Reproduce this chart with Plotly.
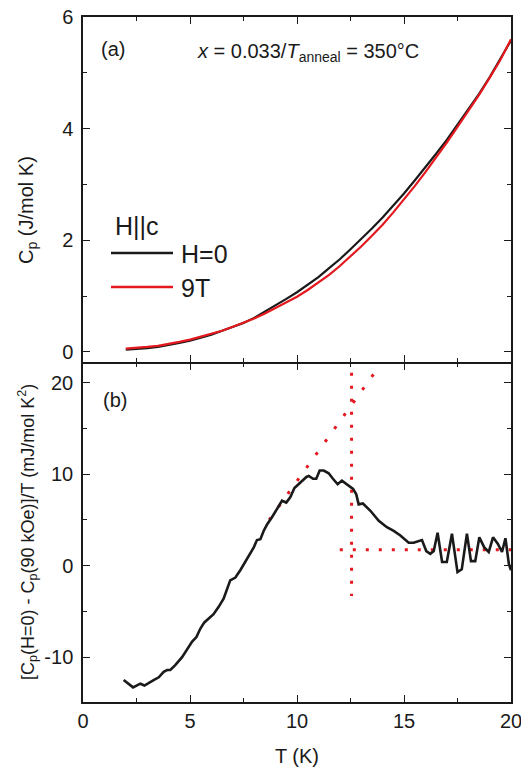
import plotly.graph_objects as go

# ---------------- data ----------------
T_cp = [2.0, 2.5, 3.0, 3.5, 4.0, 4.5, 5.0, 5.5, 6.0, 6.5, 7.0, 7.5, 8.0, 8.5, 9.0, 9.5,
        10.0, 10.5, 11.0, 11.5, 12.0, 12.5, 13.0, 13.5, 14.0, 14.5, 15.0, 15.5, 16.0,
        16.5, 17.0, 17.5, 18.0, 18.5, 19.0, 19.5, 20.0]
cp_H0 = [0.04, 0.05, 0.07, 0.09, 0.12, 0.16, 0.20, 0.25, 0.31, 0.38, 0.45, 0.52, 0.61,
         0.72, 0.83, 0.95, 1.07, 1.20, 1.34, 1.50, 1.66, 1.84, 2.02, 2.21, 2.41, 2.62,
         2.84, 3.07, 3.30, 3.55, 3.80, 4.07, 4.34, 4.62, 4.92, 5.24, 5.58]
cp_9T = [0.06, 0.07, 0.09, 0.11, 0.14, 0.18, 0.22, 0.27, 0.32, 0.38, 0.45, 0.52, 0.60,
         0.69, 0.79, 0.89, 0.99, 1.11, 1.24, 1.38, 1.54, 1.71, 1.89, 2.08, 2.28, 2.50,
         2.73, 2.97, 3.22, 3.48, 3.75, 4.03, 4.31, 4.60, 4.91, 5.23, 5.60]

T_diff = [1.9, 2.34, 2.68, 2.87, 3.3, 3.54, 3.77, 3.93, 4.08, 4.3, 4.63, 4.94, 5.1, 5.3,
          5.48, 5.67, 5.87, 6.1, 6.34, 6.57, 6.88, 7.12, 7.35, 7.66, 7.98, 8.13, 8.29,
          8.44, 8.6, 8.83, 9.07, 9.3, 9.5, 9.69, 9.88, 10.08, 10.23, 10.44, 10.55, 10.75,
          10.9, 11.06, 11.25, 11.48, 11.68, 11.9, 12.1, 12.34, 12.62, 12.77, 12.88, 13.08,
          13.43, 13.82, 14.2, 14.52, 14.83, 15.22, 15.45, 15.84, 16.04, 16.23, 16.39,
          16.57, 16.78, 17.0, 17.24, 17.5, 17.7, 17.94, 18.13, 18.33, 18.52, 18.75,
          18.96, 19.16, 19.38, 19.58, 19.74, 19.9, 20.0]
dcp = [-12.5, -13.3, -12.9, -13.1, -12.5, -12.2, -11.6, -11.4, -11.4, -10.9, -10.0, -8.9,
       -8.3, -7.8, -6.9, -6.2, -5.8, -5.3, -4.5, -3.6, -1.6, -1.3, -0.5, 0.7, 2.0, 2.8,
       2.9, 3.8, 4.5, 5.3, 6.2, 7.1, 6.9, 7.5, 8.5, 8.9, 9.3, 9.7, 9.8, 9.5, 9.5, 10.4,
       10.4, 10.1, 9.5, 8.9, 9.3, 8.9, 8.4, 7.8, 6.7, 6.8, 6.0, 4.9, 4.2, 3.8, 3.3, 2.5,
       2.5, 2.8, 1.6, 1.3, 1.6, 3.6, 0.4, 0.4, 3.5, -0.7, -0.4, 3.5, 0.5, 0.5, 3.1, 2.0,
       1.5, 3.1, 2.4, 1.5, 3.0, 0.2, -0.5]

guide_vert_T = [12.55, 12.55]
guide_vert_y = [22.5, -3.3]
guide_horz_T = [12.0, 20.0]
guide_horz_y = [1.75, 1.75]
guide_diag_T = [8.7, 13.6]
guide_diag_y = [5.0, 21.0]

x_ticks = [0, 5, 10, 15, 20]
y1_ticks = [0, 2, 4, 6]
y2_ticks = [-10, 0, 10, 20]
y2_ticklabels = ["-10", "0", "10", "20"]

BLACK = "#1a1a1a"
RED = "#e3191f"
FONT = "Liberation Sans, Arial, sans-serif"

fig = go.Figure()
fig.add_trace(go.Scatter(x=T_cp, y=cp_H0, mode="lines", line=dict(color=BLACK, width=2.2),
                         xaxis="x", yaxis="y", showlegend=False))
fig.add_trace(go.Scatter(x=T_cp, y=cp_9T, mode="lines", line=dict(color=RED, width=2.2),
                         xaxis="x", yaxis="y", showlegend=False))

fig.add_trace(go.Scatter(x=guide_diag_T, y=guide_diag_y, mode="lines",
                         line=dict(color=RED, width=3, dash="3px,13px"),
                         xaxis="x2", yaxis="y2", showlegend=False))
fig.add_trace(go.Scatter(x=guide_vert_T, y=guide_vert_y, mode="lines",
                         line=dict(color=RED, width=3, dash="3px,10px"),
                         xaxis="x2", yaxis="y2", showlegend=False))
fig.add_trace(go.Scatter(x=guide_horz_T, y=guide_horz_y, mode="lines",
                         line=dict(color=RED, width=3, dash="3px,10px"),
                         xaxis="x2", yaxis="y2", showlegend=False))
fig.add_trace(go.Scatter(x=T_diff, y=dcp, mode="lines", line=dict(color=BLACK, width=2.6),
                         xaxis="x2", yaxis="y2", showlegend=False))

split = 340 / 685
split_low = (340 - 1.5) / 685

axis_common = dict(showline=True, linecolor=BLACK, linewidth=1.5, mirror="ticks",
                   ticks="inside", ticklen=7, tickwidth=1.3, tickcolor=BLACK,
                   showgrid=False, zeroline=False, automargin=False,
                   ticklabeloverflow="allow",
                   tickfont=dict(family=FONT, size=20, color=BLACK))

fig.update_layout(
    width=521, height=771,
    margin=dict(l=83, r=10, t=17, b=69),
    plot_bgcolor="white", paper_bgcolor="white",
    font=dict(family=FONT, color=BLACK),
    xaxis=dict(domain=[0, 1], anchor="y", range=[0, 20], tickvals=x_ticks,
               showticklabels=False,
               minor=dict(ticks="inside", dtick=2.5, tick0=0, ticklen=4, tickcolor=BLACK),
               **axis_common),
    yaxis=dict(domain=[split, 1], anchor="x", range=[-0.18, 6], tickvals=y1_ticks,
               minor=dict(ticks="inside", tickvals=[1, 3, 5], ticklen=4, tickcolor=BLACK),
               ticklabelstandoff=4,
               **axis_common),
    xaxis2=dict(domain=[0, 1], anchor="y2", range=[0, 20], tickvals=x_ticks,
                minor=dict(ticks="inside", dtick=2.5, tick0=0, ticklen=4, tickcolor=BLACK),
                title=dict(text="T (K)", font=dict(family=FONT, size=20), standoff=18),
                **axis_common),
    yaxis2=dict(domain=[0, split_low], anchor="x2", range=[-14.9, 22.1], tickvals=y2_ticks,
                ticktext=y2_ticklabels,
                minor=dict(ticks="inside", tickvals=[-5, 5, 15], ticklen=4, tickcolor=BLACK),
                ticklabelstandoff=4,
                **axis_common),
)

def px(xp):
    return (xp - 83) / 428

def py(yp):
    return (702 - yp) / 685

ann = [
    dict(text="C<sub>p</sub> (J/mol K)", x=px(27), y=py(210), textangle=-90, size=20),
    dict(text="[C<sub>p</sub>(H=0) - C<sub>p</sub>(90 kOe)]/T (mJ/mol K<sup>2</sup>)",
         x=px(27), y=py(532), textangle=-90, size=18),
    dict(text="(a)", x=px(113), y=py(49), textangle=0, size=20),
    dict(text="(b)", x=px(115), y=py(400), textangle=0, size=20),
    dict(text="<i>x</i> = 0.033/<i>T</i><sub>anneal</sub> = 350°C", x=px(308), y=py(52),
         textangle=0, size=20),
    dict(text="H||c", x=px(137), y=py(226), textangle=0, size=25),
]
for a in ann:
    fig.add_annotation(text=a["text"], x=a["x"], y=a["y"], xref="paper", yref="paper",
                       showarrow=False, textangle=a["textangle"],
                       font=dict(family=FONT, size=a["size"], color=BLACK),
                       xanchor="center", yanchor="middle")

fig.add_annotation(text="H=0", x=px(179), y=py(254), xref="paper", yref="paper",
                   showarrow=False, xanchor="left", yanchor="middle",
                   font=dict(family=FONT, size=25, color=BLACK))
fig.add_annotation(text="9T", x=px(179), y=py(288), xref="paper", yref="paper",
                   showarrow=False, xanchor="left", yanchor="middle",
                   font=dict(family=FONT, size=25, color=BLACK))
fig.add_shape(type="line", xref="paper", yref="paper", x0=px(111), x1=px(173),
              y0=py(253), y1=py(253), line=dict(color=BLACK, width=2.5))
fig.add_shape(type="line", xref="paper", yref="paper", x0=px(111), x1=px(173),
              y0=py(287), y1=py(287), line=dict(color=RED, width=2.5))

fig.write_html("out.html")
